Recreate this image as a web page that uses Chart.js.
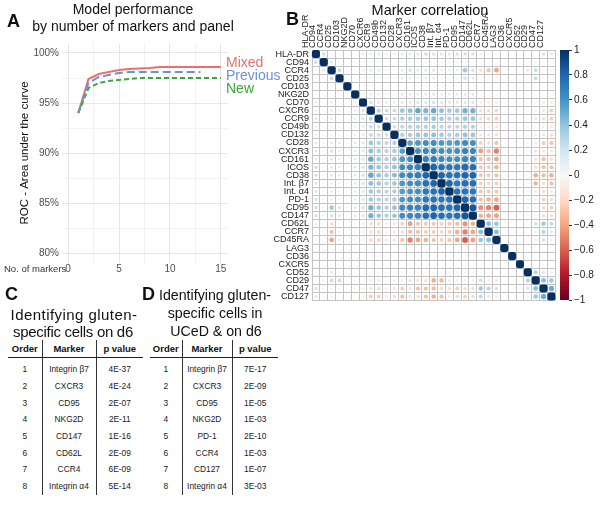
<!DOCTYPE html>
<html>
<head>
<meta charset="utf-8">
<script src="https://cdn.jsdelivr.net/npm/chart.js@4.4.1/dist/chart.umd.min.js"></script>
<style>
  body { margin: 0; width: 600px; height: 506px; background: #fff; position: relative; overflow: hidden;
         font-family: "Liberation Sans", Arial, sans-serif; color: #111; }
  canvas { position: absolute; z-index: 1; }
  .letter { position: absolute; font-weight: bold; font-size: 18px; line-height: 18px; z-index: 2; }
  .line { position: absolute; white-space: nowrap; line-height: 17px; z-index: 2; }
  .ctr { transform: translateX(-50%); }
  .tbl { position: absolute; border-collapse: collapse; table-layout: fixed; }
  .tbl th { font-weight: bold; font-size: 9.5px; height: 17px; padding: 0; text-align: center; border-bottom: 1.4px solid #222; }
  .tbl td { font-size: 8.4px; height: 16.7px; padding: 0; text-align: center; color: #222; }
  .tbl tr.sp td { height: 3px; }
  .tbl th + th, .tbl td + td { border-left: 1.4px solid #333; }
</style>
</head>
<body>

<div class="letter" style="left:7px;top:12px">A</div>
<div class="line ctr" style="left:133px;top:1px;font-size:14px">Model performance</div>
<div class="line ctr" style="left:133px;top:18px;font-size:14px">by number of markers and panel</div>
<div class="line" style="left:226px;top:54px;font-size:14px;color:#E8716B">Mixed</div>
<div class="line" style="left:226px;top:67px;font-size:14px;color:#6E8FD2">Previous</div>
<div class="line" style="left:226px;top:80px;font-size:14px;color:#3AA63C">New</div>
<div class="line" style="left:4px;top:260px;font-size:9.5px;color:#333">No. of markers</div>

<div class="letter" style="left:286px;top:10px">B</div>
<div class="line ctr" style="left:430px;top:2px;font-size:14.5px">Marker correlation</div>

<div class="letter" style="left:5px;top:285px">C</div>
<div class="line ctr" style="left:74px;top:306px;font-size:15px;letter-spacing:0.45px">Identifying gluten-</div>
<div class="line ctr" style="left:73px;top:323px;font-size:15px;letter-spacing:-0.3px">specific cells on d6</div>

<div class="letter" style="left:142px;top:285px">D</div>
<div class="line ctr" style="left:215px;top:287px;font-size:14.2px">Identifying gluten-</div>
<div class="line ctr" style="left:215px;top:305px;font-size:14.2px">specific cells in</div>
<div class="line ctr" style="left:216px;top:323px;font-size:14.2px">UCeD &amp; on d6</div>

<canvas id="perf" width="245" height="285" style="left:0;top:0;width:245px;height:285px"></canvas>
<canvas id="corr" width="315" height="309" style="left:245px;top:0;width:315px;height:309px"></canvas>
<canvas id="cbar" width="45" height="270" style="left:555px;top:40px;width:45px;height:270px"></canvas>

<table class="tbl" id="tblC" style="left:8px;top:340px;width:135px">
  <colgroup><col style="width:34px"><col style="width:54px"><col style="width:47px"></colgroup>
</table>
<table class="tbl" id="tblD" style="left:150px;top:340px;width:128px">
  <colgroup><col style="width:32px"><col style="width:50px"><col style="width:46px"></colgroup>
</table>

<script>
// ---- panel A: ROC AUC by number of markers
const nMarkers = [1, 2, 3, 4, 5, 6, 7, 8, 9, 10, 11, 12, 13, 14, 15];
const mixedAuc = [94.0, 97.4, 97.9, 98.1, 98.3, 98.4, 98.45, 98.5, 98.6, 98.6, 98.6, 98.6, 98.6, 98.6, 98.6];
const previousAuc = [94.0, 97.0, 97.6, 97.8, 98.0, 98.1, 98.1, 98.1, 98.1, 98.1, 98.1, 98.1, 98.1];
const newAuc = [94.0, 96.5, 97.0, 97.2, 97.3, 97.4, 97.5, 97.5, 97.5, 97.5, 97.5, 97.5, 97.5, 97.5, 97.5];
const xGrid = [0, 2.5, 5, 7.5, 10, 12.5, 15];
const yGrid = [80, 82.5, 85, 87.5, 90, 92.5, 95, 97.5, 100];

// ---- panel B: correlation matrix (lower triangle, row i holds columns 0..i-1)
const markers = ["HLA-DR", "CD94", "CCR4", "CD25", "CD103", "NKG2D", "CD70", "CXCR6", "CCR9", "CD49b",
  "CD132", "CD28", "CXCR3", "CD161", "ICOS", "CD38", "Int. β7", "Int. α4", "PD-1", "CD95",
  "CD147", "CD62L", "CCR7", "CD45RA", "LAG3", "CD36", "CXCR5", "CD52", "CD29", "CD47", "CD127"];
const corrLower = [
  [],
  [0.22],
  [0.06, 0.15],
  [0.05, 0.06, 0.25],
  [0.02, 0.02, 0.03, 0.02],
  [0.03, 0.05, 0.04, 0.03, 0.02],
  [0.12, 0.05, 0.1, 0.06, 0.02, 0.08],
  [0.1, 0.05, 0.12, 0.08, 0.02, 0.1, 0.2],
  [0.15, 0.05, 0.12, 0.06, 0.02, 0.1, 0.16, 0.3],
  [0.1, 0.04, 0.06, 0.05, 0.02, 0.08, 0.12, 0.24, 0.22],
  [0.1, 0.03, 0.06, 0.05, 0.02, 0.08, 0.12, 0.25, 0.24, 0.22],
  [0.14, 0.06, 0.15, 0.12, 0.03, 0.14, 0.16, 0.38, 0.32, 0.28, 0.32],
  [0.15, 0.05, 0.2, 0.1, 0.02, 0.12, 0.15, 0.42, 0.34, 0.3, 0.34, 0.55],
  [0.14, 0.05, 0.15, 0.08, 0.02, 0.12, 0.16, 0.52, 0.36, 0.32, 0.38, 0.58, 0.62],
  [0.22, 0.06, 0.15, 0.1, 0.03, 0.15, 0.18, 0.46, 0.38, 0.32, 0.4, 0.62, 0.66, 0.68],
  [0.2, 0.05, 0.15, 0.1, 0.02, 0.14, 0.2, 0.52, 0.4, 0.34, 0.42, 0.64, 0.68, 0.7, 0.8],
  [0.16, 0.05, 0.1, 0.06, 0.02, 0.12, 0.16, 0.42, 0.36, 0.3, 0.36, 0.58, 0.62, 0.64, 0.75, 0.8],
  [0.16, 0.05, 0.1, 0.06, 0.02, 0.12, 0.15, 0.36, 0.32, 0.28, 0.32, 0.56, 0.6, 0.62, 0.72, 0.75, 0.8],
  [0.2, 0.05, 0.1, 0.06, 0.02, 0.12, 0.15, 0.36, 0.32, 0.28, 0.34, 0.58, 0.62, 0.62, 0.72, 0.75, 0.72, 0.74],
  [0.22, 0.06, 0.36, 0.2, 0.03, 0.14, 0.18, 0.48, 0.38, 0.32, 0.4, 0.64, 0.68, 0.66, 0.78, 0.8, 0.76, 0.74, 0.8],
  [0.2, 0.06, 0.2, 0.15, 0.03, 0.14, 0.18, 0.48, 0.38, 0.32, 0.38, 0.62, 0.66, 0.66, 0.76, 0.8, 0.76, 0.72, 0.76, 0.85],
  [-0.1, -0.03, -0.2, -0.05, 0, -0.05, -0.1, -0.2, -0.2, -0.1, -0.15, -0.25, -0.42, -0.3, -0.28, -0.28, -0.25, -0.28, -0.32, -0.45, -0.36],
  [-0.07, -0.03, -0.3, -0.08, 0, -0.05, -0.1, -0.2, -0.22, -0.1, -0.15, -0.2, -0.32, -0.3, -0.26, -0.26, -0.22, -0.26, -0.36, -0.5, -0.4, 0.42],
  [-0.06, -0.03, -0.4, -0.1, 0, -0.06, -0.1, -0.22, -0.24, -0.14, -0.18, -0.3, -0.5, -0.4, -0.36, -0.3, -0.25, -0.28, -0.4, -0.6, -0.42, 0.38, 0.42],
  [0.03, 0.02, 0.02, 0.02, 0.01, 0.04, 0.04, 0.03, 0.02, 0.02, 0.02, 0.02, 0.02, 0.02, 0.03, 0.03, 0.02, 0.02, 0.02, 0.03, 0.02, 0.01, 0.01, 0.01],
  [0.02, 0.02, 0.02, 0.01, 0.01, 0.01, 0.02, 0.02, 0.04, 0.05, 0.03, 0.02, 0.02, 0.02, 0.02, 0.02, 0.02, 0.02, 0.02, 0.02, 0.02, 0.02, 0.02, 0.02, 0.01],
  [0.01, 0.02, 0.03, 0.02, 0.01, 0.01, 0.04, 0.03, 0.02, 0.02, 0.02, 0.02, 0.03, 0.02, 0.02, 0.02, 0.02, 0.02, 0.02, 0.02, 0.02, 0.04, 0.03, 0.03, 0.01, 0.01],
  [0.03, 0.02, 0.14, 0.04, 0.01, 0.03, 0.04, 0.05, 0.05, 0.06, 0.05, 0.06, -0.05, 0.05, 0.05, 0.06, 0.05, 0.08, 0.08, 0.08, 0.06, 0.04, 0.03, 0.02, 0.01, 0.02, 0.02],
  [0.03, 0.08, 0.24, 0.24, 0.02, -0.04, -0.06, -0.1, -0.14, -0.06, -0.1, -0.12, -0.16, -0.16, -0.18, -0.36, -0.34, -0.12, -0.1, -0.1, -0.08, 0.22, -0.1, -0.12, 0.02, 0.02, 0.03, 0.3],
  [-0.2, -0.04, -0.06, -0.04, -0.02, -0.04, -0.12, -0.15, -0.2, -0.1, -0.15, -0.26, -0.16, -0.3, -0.3, -0.32, -0.2, -0.2, -0.25, -0.2, -0.2, 0.36, 0.3, 0.22, 0.02, 0.02, 0.03, 0.18, 0.42],
  [-0.15, -0.04, -0.08, -0.04, -0.02, -0.04, -0.12, -0.26, -0.25, -0.14, -0.2, -0.3, -0.15, -0.18, -0.3, -0.36, -0.3, -0.12, -0.2, -0.25, -0.2, 0.26, 0.15, 0.1, 0.02, 0.02, 0.03, 0.08, 0.36, 0.5]
];
const cbarTicks = [-1, -0.8, -0.6, -0.4, -0.2, 0, 0.2, 0.4, 0.6, 0.8, 1];

// ---- panels C and D: tables
const orderC = [1, 2, 3, 4, 5, 6, 7, 8];
const markerC = ["Integrin β7", "CXCR3", "CD95", "NKG2D", "CD147", "CD62L", "CCR4", "Integrin α4"];
const pvalC = ["4E-37", "4E-24", "2E-07", "2E-11", "1E-16", "2E-09", "6E-09", "5E-14"];
const orderD = [1, 2, 3, 4, 5, 6, 7, 8];
const markerD = ["Integrin β7", "CXCR3", "CD95", "NKG2D", "PD-1", "CCR4", "CD127", "Integrin α4"];
const pvalD = ["7E-17", "2E-09", "1E-05", "1E-03", "2E-10", "1E-03", "1E-07", "3E-03"];

// RdBu palette used by corrplot, from -1 to 1
const rdbu = ["#67001F", "#B2182B", "#D6604D", "#F4A582", "#FDDBC7", "#F7F7F7",
              "#D1E5F0", "#92C5DE", "#4393C3", "#2166AC", "#053061"];

function hexRgb(h) {
  return [1, 3, 5].map((i) => parseInt(h.slice(i, i + 2), 16));
}

function corrColor(v) {
  const t = (Math.max(-1, Math.min(1, v)) + 1) / 2 * (rdbu.length - 1);
  const i = Math.min(rdbu.length - 2, Math.floor(t));
  const f = t - i;
  const a = hexRgb(rdbu[i]), b = hexRgb(rdbu[i + 1]);
  const c = a.map((x, k) => Math.round(x + (b[k] - x) * f));
  return `rgb(${c[0]},${c[1]},${c[2]})`;
}

Chart.defaults.font.family = '"Liberation Sans", Arial, sans-serif';
Chart.defaults.animation = false;

function gridStyle(ctx) {
  return ctx.tick && ctx.tick.value % 5 === 0 ? "#e6e6e6" : "#f2f2f2";
}

// Panel A  (Previous drawn on top, Mixed underneath)
new Chart(document.getElementById("perf"), {
  type: "line",
  data: {
    datasets: [
      {
        label: "Previous",
        data: previousAuc.map((y, i) => ({ x: nMarkers[i], y })),
        borderColor: "#6E8FD2",
        borderWidth: 2,
        borderDash: [8, 4],
        pointRadius: 0,
      },
      {
        label: "New",
        data: nMarkers.map((x, i) => ({ x, y: newAuc[i] })),
        borderColor: "#3AA63C",
        borderWidth: 2,
        borderDash: [5, 3],
        pointRadius: 0,
      },
      {
        label: "Mixed",
        data: nMarkers.map((x, i) => ({ x, y: mixedAuc[i] })),
        borderColor: "#EE6E69",
        borderWidth: 2,
        pointRadius: 0,
      },
    ],
  },
  options: {
    responsive: false,
    layout: { padding: { top: 43, right: 17, bottom: 8, left: 0 } },
    plugins: { legend: { display: false }, tooltip: { enabled: false } },
    scales: {
      x: {
        type: "linear",
        min: -0.6,
        max: 15.7,
        afterBuildTicks: (s) => { s.ticks = xGrid.map((value) => ({ value })); },
        afterFit: (s) => { s.height = 14; },
        ticks: { padding: 0, color: "#4d4d4d", font: { size: 10 },
                 callback: (v) => (v % 5 === 0 ? String(v) : "") },
        grid: { drawTicks: false, color: gridStyle, lineWidth: 1 },
        border: { display: false },
      },
      y: {
        min: 79,
        max: 101,
        afterBuildTicks: (s) => { s.ticks = yGrid.map((value) => ({ value })); },
        afterFit: (s) => { s.width = 62; },
        ticks: { padding: 3, color: "#4d4d4d", font: { size: 10 },
                 callback: (v) => (v % 5 === 0 ? v + "%" : "") },
        grid: { drawTicks: false, color: gridStyle, lineWidth: 1 },
        border: { display: false },
        title: { display: true, text: "ROC - Area under the curve", color: "#111",
                 font: { size: 11.5 }, padding: { top: 18, bottom: 0 } },
      },
    },
  },
});

// Panel B
const cells = [];
markers.forEach((rowName, i) => {
  markers.forEach((colName, j) => {
    let v = 1;
    if (i > j) v = corrLower[i][j] ?? 0;
    else if (j > i) v = corrLower[j][i] ?? 0;
    cells.push({ x: colName, y: rowName, v, diag: i === j });
  });
});

const cellGrid = { offset: true, color: "#c4c4c4", lineWidth: 1, drawTicks: false };

new Chart(document.getElementById("corr"), {
  type: "scatter",
  data: {
    datasets: [
      {
        data: cells,
        pointStyle: (ctx) => (ctx.raw && ctx.raw.diag ? "rectRounded" : "circle"),
        pointRadius: (ctx) => (ctx.raw ? (ctx.raw.diag ? 4.7 : 3.8 * Math.sqrt(Math.abs(ctx.raw.v))) : 0),
        backgroundColor: (ctx) => (ctx.raw ? corrColor(ctx.raw.v) : "#fff"),
        borderWidth: 0,
      },
    ],
  },
  options: {
    responsive: false,
    layout: { padding: { top: 0, right: 4, bottom: 0, left: 0 } },
    plugins: { legend: { display: false }, tooltip: { enabled: false } },
    scales: {
      x: {
        type: "category",
        labels: markers,
        position: "top",
        offset: true,
        grid: cellGrid,
        border: { color: "#c4c4c4" },
        afterFit: (s) => { s.height = 50; },
        ticks: { autoSkip: false, minRotation: 90, maxRotation: 90, padding: 2,
                 color: "#222", font: { size: 9 } },
      },
      y: {
        type: "category",
        labels: markers,
        offset: true,
        grid: cellGrid,
        border: { color: "#c4c4c4" },
        afterFit: (s) => { s.width = 67; },
        ticks: { autoSkip: false, padding: 3, color: "#222", font: { size: 9 } },
      },
    },
  },
});

// colour bar
const gradientFill = {
  id: "gradientFill",
  beforeDatasetsDraw(chart) {
    const { ctx, chartArea: a } = chart;
    const g = ctx.createLinearGradient(0, a.bottom, 0, a.top);
    rdbu.forEach((c, i) => g.addColorStop(i / (rdbu.length - 1), c));
    ctx.save();
    ctx.fillStyle = g;
    ctx.fillRect(a.left, a.top, a.right - a.left, a.bottom - a.top);
    ctx.restore();
  },
};

new Chart(document.getElementById("cbar"), {
  type: "scatter",
  data: { datasets: [] },
  plugins: [gradientFill],
  options: {
    responsive: false,
    layout: { padding: { top: 10, right: 0, bottom: 10, left: 5 } },
    plugins: { legend: { display: false }, tooltip: { enabled: false } },
    scales: {
      x: { display: false, min: 0, max: 1 },
      y: {
        position: "right",
        min: -1,
        max: 1,
        afterBuildTicks: (s) => { s.ticks = cbarTicks.map((value) => ({ value })); },
        afterFit: (s) => { s.width = 31; },
        grid: { drawOnChartArea: false, tickLength: 3, color: "#333" },
        border: { display: false },
        ticks: {
          padding: 2, color: "#222", font: { size: 10 },
          callback: (v) => (Math.abs(v) < 1e-9 ? "0" : (v < 0 ? "\u2212" : "") + String(Math.round(Math.abs(v) * 10) / 10)),
        },
      },
    },
  },
});

// tables
function fillTable(id, order, marker, pval) {
  const t = document.getElementById(id);
  let html = "<tr><th>Order</th><th>Marker</th><th>p value</th></tr>";
  html += '<tr class="sp"><td></td><td></td><td></td></tr>';
  order.forEach((o, i) => {
    html += `<tr><td>${o}</td><td>${marker[i]}</td><td>${pval[i]}</td></tr>`;
  });
  t.insertAdjacentHTML("beforeend", html);
}
fillTable("tblC", orderC, markerC, pvalC);
fillTable("tblD", orderD, markerD, pvalD);
</script>
</body>
</html>
